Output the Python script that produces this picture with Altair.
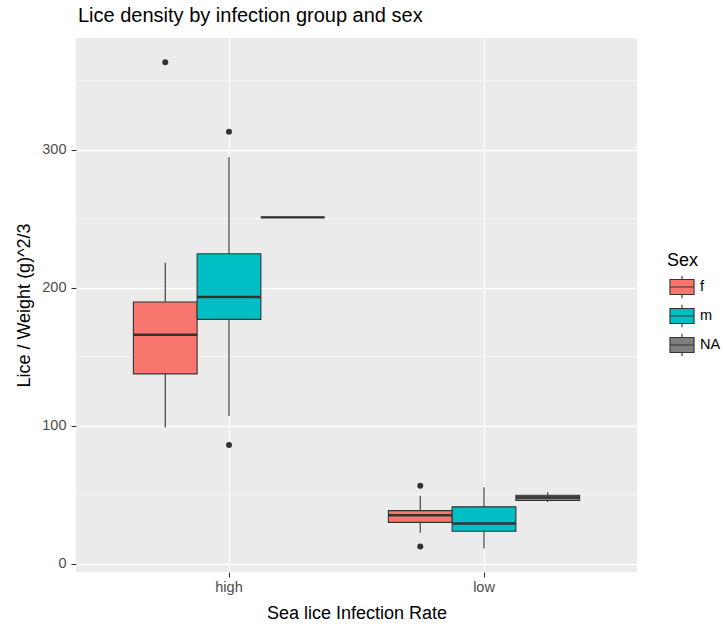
import altair as alt
import pandas as pd

# Box summaries per infection group and sex
groups = ["high", "high", "high", "low", "low", "low"]
sexes = ["f", "m", "NA", "f", "m", "NA"]
whisker_low = [98.8, 107.0, 251.0, 22.5, 11.1, 44.8]
q1 = [137.6, 177.1, 251.0, 30.0, 23.5, 45.8]
median = [165.9, 193.3, 251.0, 35.1, 29.1, 48.0]
q3 = [189.7, 224.6, 251.0, 38.5, 41.2, 49.6]
whisker_high = [218.2, 294.8, 251.0, 49.2, 55.5, 51.8]

# Outlying observations
out_groups = ["high", "high", "high", "low", "low"]
out_sexes = ["f", "m", "m", "f", "f"]
out_values = [363.4, 313.0, 86.0, 56.5, 12.4]

# Minor y breaks of the grey panel grid
minor_breaks = [50, 150, 250, 350]

sex_levels = ["f", "m", "NA"]
sex_colors = ["#F8766D", "#00BFC4", "#7F7F7F"]

boxes = pd.DataFrame({
    "Infection": groups, "Sex": sexes,
    "lo": whisker_low, "q1": q1, "med": median, "q3": q3, "hi": whisker_high,
})
outliers = pd.DataFrame({"Infection": out_groups, "Sex": out_sexes, "value": out_values})
minor = pd.DataFrame({"b": minor_breaks})

font = "Liberation Sans"
y_scale = alt.Scale(domain=[-6, 381], nice=False, zero=False)
x_enc = alt.X(
    "Infection:N",
    title="Sea lice Infection Rate",
    scale=alt.Scale(paddingInner=0, paddingOuter=0.1),
    axis=alt.Axis(labelAngle=0, bandPosition=0.5, grid=True, gridColor="white",
                  gridWidth=1.3, tickColor="#333333", tickSize=5, tickWidth=1.1,
                  domain=False, labelColor="#4D4D4D", labelFontSize=14.5,
                  labelPadding=3, titleFontSize=18, titleFontWeight="normal",
                  titleColor="black", titlePadding=11, labelFont=font, titleFont=font),
)
x_off = alt.XOffset("Sex:N", scale=alt.Scale(domain=sex_levels, paddingOuter=0.5, paddingInner=0))

grid_minor = alt.Chart(minor).mark_rule(color="white", strokeWidth=0.6).encode(
    y=alt.Y("b:Q", scale=y_scale)
)

whiskers = alt.Chart(boxes).mark_rule(color="#333333", strokeWidth=1.1).encode(
    x=x_enc, xOffset=x_off,
    y=alt.Y("lo:Q", scale=y_scale,
            title="Lice / Weight (g)^2/3",
            axis=alt.Axis(values=[0, 100, 200, 300], grid=True, gridColor="white",
                          gridWidth=1.3, tickColor="#333333", tickSize=5, tickWidth=1.1,
                          domain=False, labelColor="#4D4D4D", labelFontSize=14.5,
                          labelPadding=5, titleFontSize=18, titleFontWeight="normal",
                          titleColor="black", titlePadding=8, labelFont=font,
                          titleFont=font)),
    y2="hi:Q",
)

# Legend glyph: a small box with its median line and whiskers
box_path = "M-0.86,-0.54H0.86V0.54H-0.86Z M-0.86,0H0.86 M0,-0.54V-0.8 M0,0.54V0.8"

box = alt.Chart(boxes).mark_bar(stroke="#333333", strokeWidth=1.1, opacity=1).encode(
    x=x_enc, xOffset=x_off,
    y=alt.Y("q1:Q", scale=y_scale),
    y2="q3:Q",
    fill=alt.Fill("Sex:N", scale=alt.Scale(domain=sex_levels, range=sex_colors),
                  legend=alt.Legend(title="Sex", orient="none", legendX=591, legendY=214,
                                    symbolType=box_path, symbolSize=784,
                                    symbolStrokeColor="#333333", symbolStrokeWidth=1.1,
                                    symbolOpacity=1, rowPadding=-5, labelFontSize=14.5,
                                    titleFontSize=18, titleFontWeight="normal",
                                    labelFont=font, titleFont=font, titleColor="black",
                                    labelColor="black", titlePadding=2, labelOffset=3)),
)

med = alt.Chart(boxes).mark_bar(stroke="#333333", strokeWidth=2.4, fill="transparent").encode(
    x=x_enc, xOffset=x_off,
    y=alt.Y("med:Q", scale=y_scale),
    y2="med:Q",
)

points = alt.Chart(outliers).mark_circle(color="#333333", size=36, opacity=1).encode(
    x=x_enc, xOffset=x_off,
    y=alt.Y("value:Q", scale=y_scale),
)

chart = alt.layer(grid_minor, whiskers, box, med, points).properties(
    width=561, height=534,
    autosize=alt.AutoSizeParams(type="none"),
    padding={"left": 76, "top": 38, "right": 86, "bottom": 58},
    title=alt.Title("Lice density by infection group and sex", anchor="start",
                    frame="group", fontSize=20, fontWeight="normal", font=font,
                    color="black", offset=12, dx=2),
).configure(
    background="white",
    view=alt.ViewConfig(fill="#EBEBEB", strokeWidth=0),
)

chart.save("out.html", embed_options={"renderer": "svg", "actions": False})
